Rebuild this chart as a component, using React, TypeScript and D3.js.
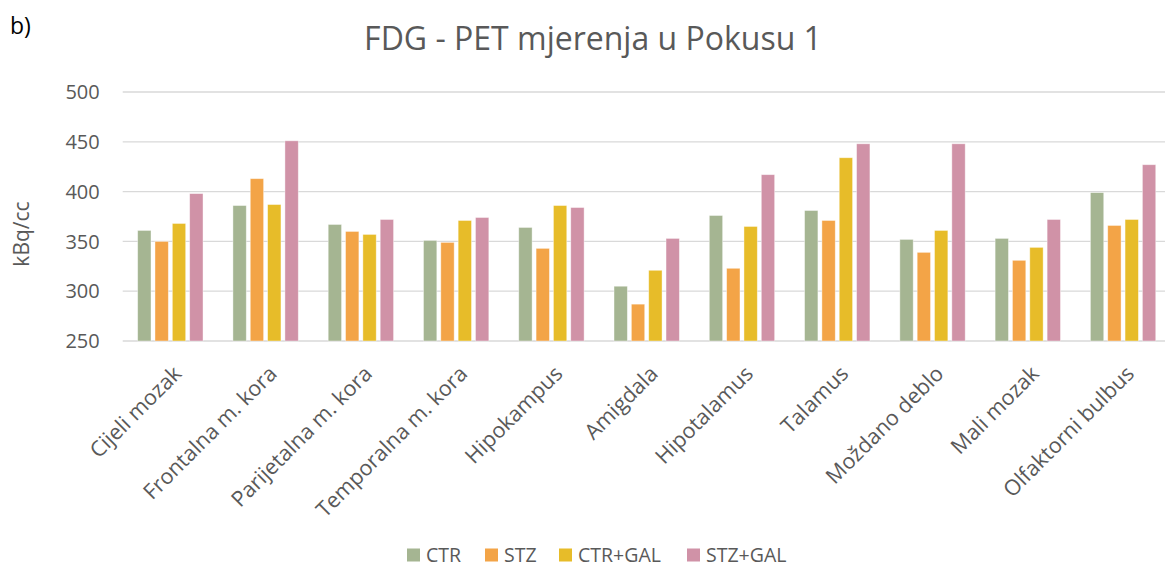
import React, { useRef, useEffect } from "react";
import * as d3 from "d3";

const categories = [
  "Cijeli mozak",
  "Frontalna m. kora",
  "Parijetalna m. kora",
  "Temporalna m. kora",
  "Hipokampus",
  "Amigdala",
  "Hipotalamus",
  "Talamus",
  "Moždano deblo",
  "Mali mozak",
  "Olfaktorni bulbus",
];

const seriesNames = ["CTR", "STZ", "CTR+GAL", "STZ+GAL"];
const seriesColors = ["#A5B592", "#F3A447", "#E7BC29", "#D092A7"];

const ctr = [361, 386, 367, 351, 364, 305, 376, 381, 352, 353, 399];
const stz = [350, 413, 360, 349, 343, 287, 323, 371, 339, 331, 366];
const ctrGal = [368, 387, 357, 371, 386, 321, 365, 434, 361, 344, 372];
const stzGal = [398, 451, 372, 374, 384, 353, 417, 448, 448, 372, 427];

const yTicks = [250, 300, 350, 400, 450, 500];

const FONT = "'Open Sans', sans-serif";
const TEXT = "#595959";

function BarChart({ width = 1165, height = 567 }) {
  const svgRef = useRef<SVGSVGElement>(null);

  useEffect(() => {
    const svg = d3.select(svgRef.current);
    svg.selectAll("*").remove();

    const values = [ctr, stz, ctrGal, stzGal];
    const plot = { left: 122.7, right: 1170.7, top: 92, bottom: 341 };

    const x = d3.scaleBand<string>()
      .domain(categories)
      .range([plot.left, plot.right])
      .padding(0);

    const groupPad = x.bandwidth() * 0.157;
    const xSub = d3.scaleBand<string>()
      .domain(seriesNames)
      .range([groupPad, x.bandwidth() - groupPad])
      .paddingInner(0.23)
      .paddingOuter(0);

    const y = d3.scaleLinear()
      .domain([250, 500])
      .range([plot.bottom, plot.top]);

    // gridlines
    svg.append("g")
      .selectAll("line")
      .data(yTicks)
      .join("line")
      .attr("x1", plot.left)
      .attr("x2", plot.right)
      .attr("y1", d => y(d))
      .attr("y2", d => y(d))
      .attr("stroke", "#D9D9D9")
      .attr("stroke-width", 1.3);

    // y tick labels
    svg.append("g")
      .selectAll("text")
      .data(yTicks)
      .join("text")
      .attr("x", plot.left - 23)
      .attr("y", d => y(d))
      .attr("dy", "0.36em")
      .attr("text-anchor", "end")
      .attr("font-family", FONT)
      .attr("font-size", 20)
      .attr("fill", TEXT)
      .text(d => d);

    // bars
    const groups = svg.append("g")
      .selectAll("g")
      .data(categories)
      .join("g")
      .attr("transform", d => `translate(${x(d)},0)`);

    groups.selectAll("rect")
      .data((_, i) => seriesNames.map((s, k) => ({ s, v: values[k][i], k })))
      .join("rect")
      .attr("x", d => xSub(d.s)!)
      .attr("width", xSub.bandwidth())
      .attr("y", d => y(d.v))
      .attr("height", d => y(250) - y(d.v))
      .attr("fill", d => seriesColors[d.k])
      .attr("stroke", "#ffffff")
      .attr("stroke-opacity", 0.5)
      .attr("stroke-width", 0.8);

    // x labels
    svg.append("g")
      .selectAll("text")
      .data(categories)
      .join("text")
      .attr("transform", d => `translate(${x(d)! + x.bandwidth() / 2 + 12.5},${plot.bottom + 34}) rotate(-45)`)
      .attr("text-anchor", "end")
      .attr("font-family", FONT)
      .attr("font-size", 21.5)
      .attr("fill", TEXT)
      .text(d => d);

    // title
    svg.append("text")
      .attr("x", 593)
      .attr("y", 49.5)
      .attr("text-anchor", "middle")
      .attr("font-family", FONT)
      .attr("font-size", 32)
      .attr("fill", TEXT)
      .text("FDG - PET mjerenja u Pokusu 1");

    // panel letter
    svg.append("text")
      .attr("x", 10)
      .attr("y", 34)
      .attr("font-family", FONT)
      .attr("font-size", 23)
      .attr("fill", "#000")
      .text("b)");

    // y axis title
    svg.append("text")
      .attr("transform", `translate(29,234) rotate(-90)`)
      .attr("text-anchor", "middle")
      .attr("font-family", FONT)
      .attr("font-size", 21)
      .attr("fill", TEXT)
      .text("kBq/cc");

    // legend
    const legendX = [407, 485, 559, 687];
    const legend = svg.append("g")
      .selectAll("g")
      .data(seriesNames)
      .join("g")
      .attr("transform", (_, i) => `translate(${legendX[i]},548.5)`);

    legend.append("rect")
      .attr("width", 13)
      .attr("height", 13)
      .attr("fill", (_, i) => seriesColors[i]);

    legend.append("text")
      .attr("x", 19)
      .attr("y", 13.5)
      .attr("font-family", FONT)
      .attr("font-size", 19.5)
      .attr("fill", TEXT)
      .text(d => d);
  }, [width, height]);

  return (
    <svg
      ref={svgRef}
      width={width}
      height={height}
      style={{ position: "absolute", left: 0, top: 0, background: "#fff" }}
    ></svg>
  );
}

export default function App() {
  return <BarChart />;
}
